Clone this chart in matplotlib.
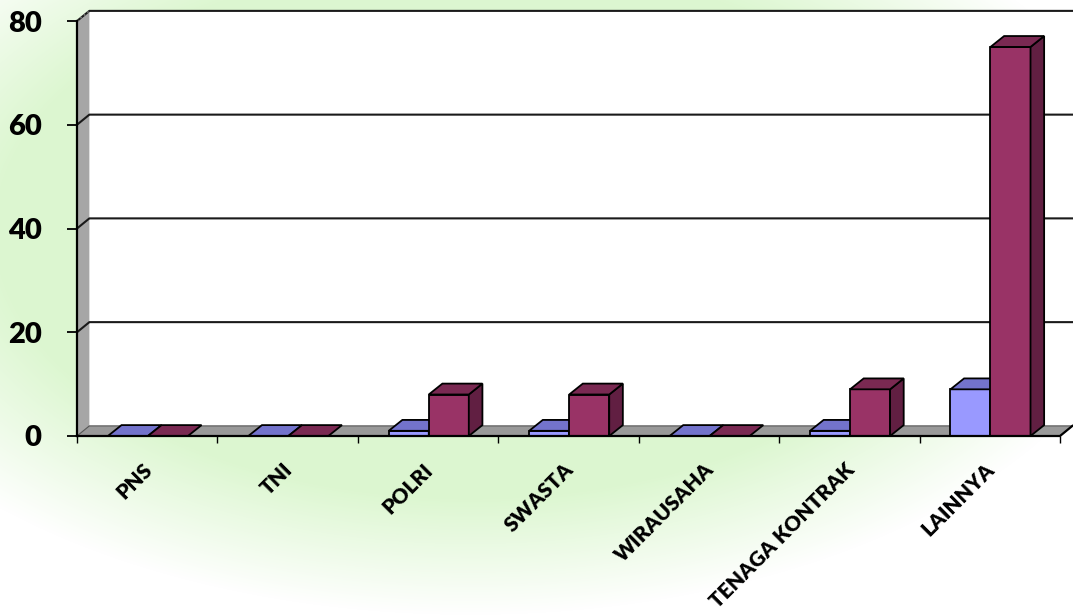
import numpy as np
import matplotlib
matplotlib.use("Agg")
from matplotlib import pyplot as plt
from matplotlib.patches import Polygon
from matplotlib.transforms import ScaledTranslation

categories = ["PNS", "TNI", "POLRI", "SWASTA", "WIRAUSAHA", "TENAGA KONTRAK", "LAINNYA"]
series_a = [0, 0, 1, 1, 0, 1, 9]      # blue bars
series_b = [0, 0, 8, 8, 0, 9, 75]     # maroon bars
y_ticks = [0, 20, 40, 60, 80]

colors_a = ("#9999ff", "#7373cc", "#5c5c99")   # front, top, side
colors_b = ("#993366", "#7a2952", "#611f42")

W, H = 1073, 615
DX, DY = 0.088, 1.95      # depth of walls / floor
BDX, BDY = 0.097, 2.1     # depth of bars


def bar3d(ax, x0, w, h, cols):
    f, t, s = cols
    kw = dict(edgecolor="black", linewidth=1.3, clip_on=False, zorder=5)
    if h > 0:
        ax.add_patch(Polygon([(x0, 0), (x0 + w, 0), (x0 + w, h), (x0, h)], facecolor=f, **kw))
        ax.add_patch(Polygon([(x0 + w, 0), (x0 + w + BDX, BDY), (x0 + w + BDX, h + BDY), (x0 + w, h)],
                             facecolor=s, **kw))
    ax.add_patch(Polygon([(x0, h), (x0 + w, h), (x0 + w + BDX, h + BDY), (x0 + BDX, h + BDY)],
                         facecolor=t, **kw))


def main():
    plt.rcParams["font.family"] = ["Lato", "DejaVu Sans"]
    fig = plt.figure(figsize=(W / 100, H / 100), dpi=100)
    fig.patch.set_facecolor("white")

    # faded watermark behind the chart
    bg = fig.add_axes([0, 0, 1, 1], zorder=-5)
    yy, xx = np.mgrid[0:H, 0:W]
    r = np.sqrt(((xx - 470) / 620.0) ** 2 + ((yy - 230) / 350.0) ** 2)
    alpha = np.clip((1.1 - r) * 3.0, 0, 1) * 0.75
    img = np.zeros((H, W, 4))
    img[..., 0] = 0.82
    img[..., 1] = 0.96
    img[..., 2] = 0.76
    img[..., 3] = alpha
    bg.imshow(img, aspect="auto", interpolation="bilinear")
    bg.axis("off")

    n = len(categories)
    x0_px, x1_px = 77, 1060
    y0_px, y80_px = 436, 21
    ax = fig.add_axes([x0_px / W, (H - y0_px) / H, (x1_px - x0_px) / W, (y0_px - y80_px) / H])
    ax.set_xlim(0, n)
    ax.set_ylim(0, 80)
    ax.patch.set_alpha(0)
    for sp in ax.spines.values():
        sp.set_visible(False)

    top = y_ticks[-1]
    # back wall
    ax.add_patch(Polygon([(DX, DY), (n + DX + 0.2, DY), (n + DX + 0.2, top + DY), (DX, top + DY)],
                         facecolor="white", edgecolor="none", clip_on=False, zorder=1))
    # left wall
    ax.add_patch(Polygon([(0, 0), (DX, DY), (DX, top + DY), (0, top)],
                         facecolor="#a6a6a6", edgecolor="none", clip_on=False, zorder=2))
    # gridlines on the walls
    for v in y_ticks[1:]:
        ax.plot([0, DX, n + DX + 0.2], [v, v + DY, v + DY], color="#1a1a1a", lw=1.5,
                clip_on=False, zorder=3)
    ax.plot([0, DX], [top, top + DY], color="#777777", lw=1.2, ls=":", clip_on=False, zorder=4)
    # floor
    ax.add_patch(Polygon([(0, 0), (n, 0), (n + DX, DY), (DX, DY)],
                         facecolor="#999999", edgecolor="#555555", linewidth=0.8,
                         clip_on=False, zorder=3))
    ax.plot([0, 0], [0, top], color="black", lw=1.6, clip_on=False, zorder=4)

    w = 0.285
    off = 0.22
    for i in range(n):
        bar3d(ax, i + off, w, series_a[i], colors_a)
        bar3d(ax, i + off + w, w, series_b[i], colors_b)

    ax.plot([0, n, n + DX], [0, 0, DY], color="black", lw=1.6, clip_on=False, zorder=6)

    ax.set_yticks(y_ticks)
    ax.set_yticklabels([str(v) for v in y_ticks], fontsize=21, fontweight="heavy")
    ax.tick_params(axis="y", length=7.5, width=1.3, pad=18, color="black")

    ax.set_xticks(np.arange(n) + 0.5)
    ax.set_xticklabels(categories, fontsize=15, fontweight="heavy", rotation=45,
                       ha="right", rotation_mode="anchor")
    ax.tick_params(axis="x", which="major", length=0, pad=17)
    shift = ScaledTranslation(-5 / 100, 0, fig.dpi_scale_trans)
    for lab in ax.get_xticklabels():
        lab.set_transform(lab.get_transform() + shift)
    ax.set_xticks(np.arange(n + 1), minor=True)
    ax.tick_params(axis="x", which="minor", length=5, width=1.0, color="black")

    fig.savefig("out.png", dpi=100)


if __name__ == "__main__":
    main()
